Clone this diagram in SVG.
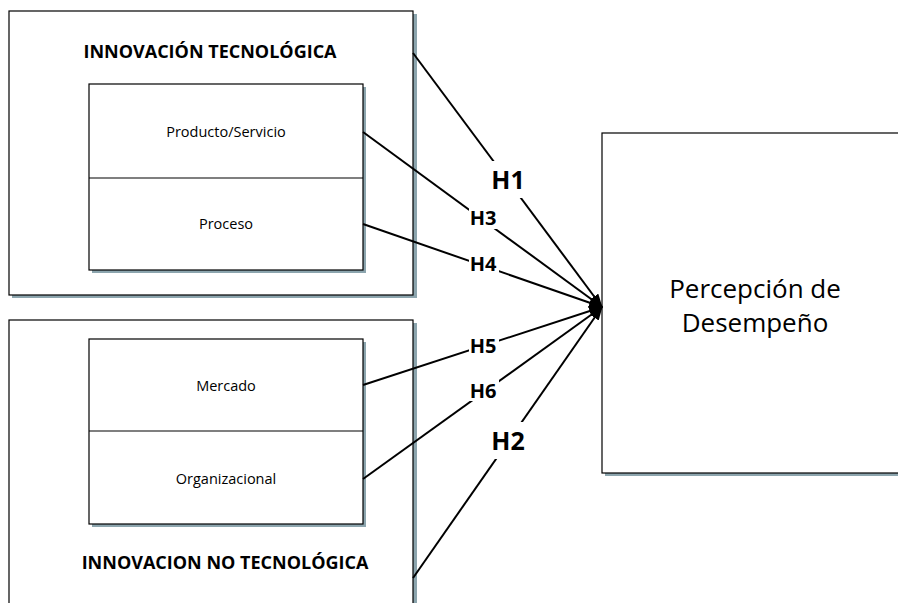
<svg xmlns="http://www.w3.org/2000/svg" width="898" height="603" viewBox="0 0 898 603">
<style>
.box{fill:#fff;stroke:#000;stroke-width:1.2}
.sh{fill:#8ca5ae}
.t{font-family:"Open Sans","Liberation Sans",sans-serif;fill:#000;text-anchor:middle}
.title{font-size:18px;font-weight:bold}
.sub{font-size:14.5px}
.big{font-size:26px}
.lbl{font-family:"Open Sans","Liberation Sans",sans-serif;font-weight:bold;text-anchor:middle;fill:#000}
.c{stroke:#000;stroke-width:2;fill:none;marker-end:url(#ah)}
.mask{fill:#fff}
</style>
<defs>
<marker id="ah" markerWidth="14" markerHeight="10" refX="13" refY="5" orient="auto" markerUnits="userSpaceOnUse">
<path d="M0,0 L14,5 L0,10 Z" fill="#000"/>
</marker>
</defs>
<rect width="898" height="603" fill="#fff"/>
<g id="innovacion-tecnologica">
<rect class="sh" x="12" y="14" width="405" height="284"/>
<rect class="box" x="9" y="11" width="404" height="284"/>
<text class="t title" x="210" y="58">INNOVACIÓN TECNOLÓGICA</text>
</g>
<g id="producto-proceso">
<rect class="sh" x="92" y="87" width="274" height="186"/>
<rect class="box" x="89" y="84" width="274" height="186"/>
<line x1="89" y1="178" x2="363" y2="178" stroke="#000" stroke-width="1.2"/>
<text class="t sub" x="226" y="137">Producto/Servicio</text>
<text class="t sub" x="226" y="229">Proceso</text>
</g>
<g id="innovacion-no-tecnologica">
<rect class="sh" x="12" y="323" width="405" height="290"/>
<rect class="box" x="9" y="320" width="404" height="300"/>
<text class="t title" x="225" y="569">INNOVACION NO TECNOLÓGICA</text>
</g>
<g id="mercado-organizacional">
<rect class="sh" x="92" y="342" width="274" height="185"/>
<rect class="box" x="89" y="339" width="274" height="185"/>
<line x1="89" y1="431" x2="363" y2="431" stroke="#000" stroke-width="1.2"/>
<text class="t sub" x="226" y="391">Mercado</text>
<text class="t sub" x="226" y="484">Organizacional</text>
</g>
<g id="percepcion-desempeno">
<rect class="sh" x="605" y="136" width="300" height="340"/>
<rect class="box" x="602" y="133" width="310" height="340"/>
<text class="t big" x="755" y="298">Percepción de</text>
<text class="t big" x="755" y="332">Desempeño</text>
</g>
<g id="connectors">
<line class="c" x1="413" y1="53" x2="602" y2="307"/>
<line class="c" x1="363" y1="132" x2="602" y2="307"/>
<line class="c" x1="363" y1="224" x2="602" y2="307"/>
<line class="c" x1="363" y1="385" x2="602" y2="307"/>
<line class="c" x1="363" y1="479" x2="602" y2="307"/>
<line class="c" x1="413" y1="578" x2="602" y2="307"/>
</g>
<g id="labels">
<rect class="mask" x="490" y="161" width="38" height="37"/>
<text class="lbl" x="508" y="189" font-size="25">H1</text>
<rect class="mask" x="469" y="207" width="30" height="22"/>
<text class="lbl" x="483" y="225" font-size="20">H3</text>
<rect class="mask" x="469" y="253" width="30" height="21"/>
<text class="lbl" x="483" y="271" font-size="20">H4</text>
<rect class="mask" x="469" y="335" width="30" height="21"/>
<text class="lbl" x="483" y="353" font-size="20">H5</text>
<rect class="mask" x="469" y="379" width="30" height="22"/>
<text class="lbl" x="483" y="398" font-size="20">H6</text>
<rect class="mask" x="490" y="422" width="38" height="37"/>
<text class="lbl" x="508" y="450" font-size="25">H2</text>
</g>
</svg>
